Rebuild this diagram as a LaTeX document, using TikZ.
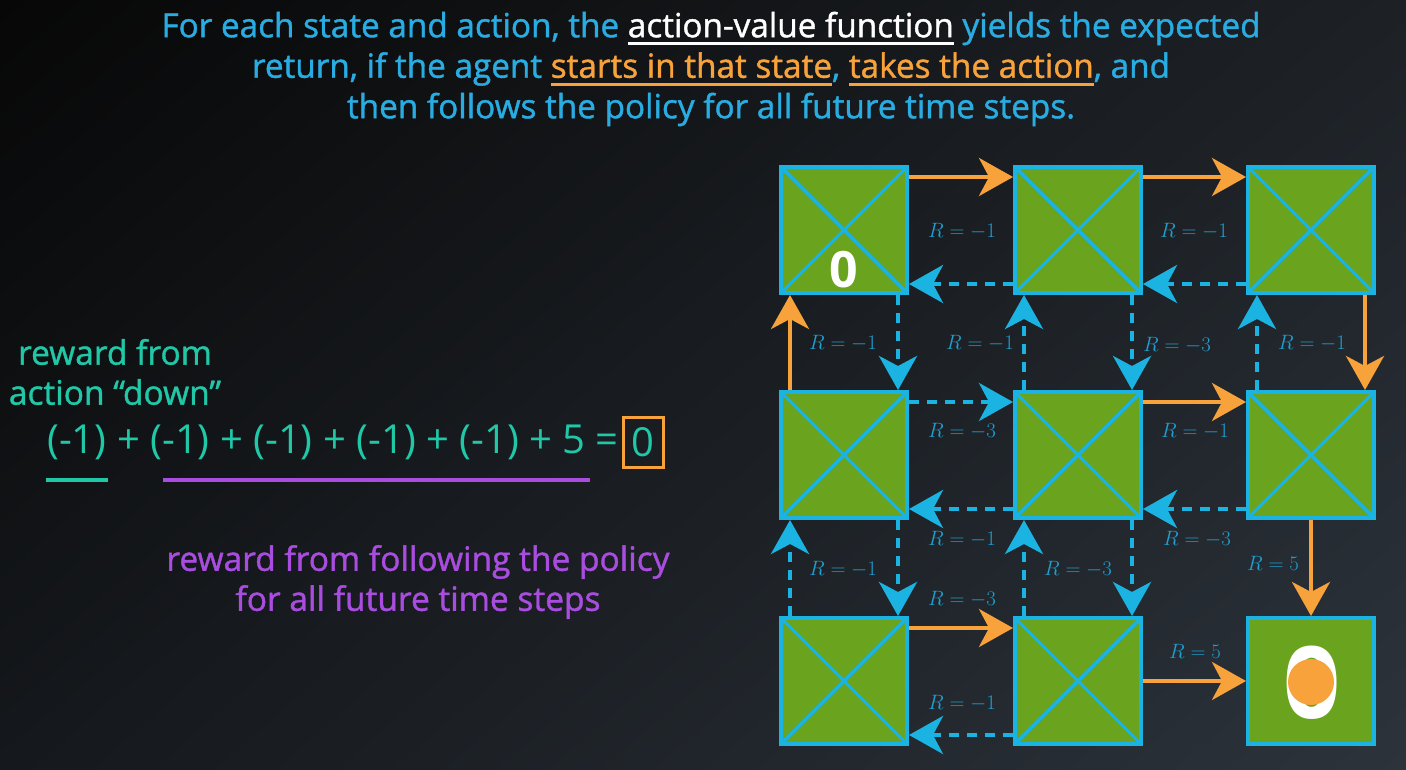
\documentclass[tikz,border=0pt]{standalone}
\usepackage{fontspec}
\usepackage{tikz}
\setmainfont{Open Sans}
\newfontfamily\semifont{Open Sans}[FakeBold = 1.2]
\newfontfamily\eqfont{Open Sans}
\usetikzlibrary{arrows.meta}
\usetikzlibrary{positioning}
\usetikzlibrary{shadings}
\definecolor{topblue}{HTML}{29ACE2}
\definecolor{tealtext}{HTML}{20C8A8}
\definecolor{purpletext}{HTML}{A84DDF}
\definecolor{orangeline}{HTML}{F7A23B}
\definecolor{grass}{HTML}{6AA31D}
\definecolor{cellline}{HTML}{1AB3E2}
\definecolor{labelblue}{HTML}{1E9FD0}
\definecolor{bgtl}{HTML}{070707}
\definecolor{bgtr}{HTML}{1D2126}
\definecolor{bgbl}{HTML}{15181C}
\definecolor{bgbr}{HTML}{2C333B}
\newlength{\marklen}
\newcommand{\markline}[2]{\settowidth{\marklen}{#2}\textcolor{#1}{\rlap{\rule[-8pt]{\marklen}{3pt}}#2}}
\tikzset{cell/.style = {draw = cellline, line width = 4pt, fill = grass,
                        minimum size = 126pt, inner sep = 0,
                        path picture = {\draw [line width = 3.5pt, cellline]
                          (path picture bounding box.north west) -- (path picture bounding box.south east)
                          (path picture bounding box.south west) -- (path picture bounding box.north east);}}}
\tikzset{goal/.style = {draw = cellline, line width = 4pt, fill = grass,
                        minimum size = 126pt, inner sep = 0}}
\tikzset{go/.style = {line width = 4pt, draw = orangeline,
                      -{Stealth[length = 34pt, width = 38pt, inset = 10pt]}}}
\tikzset{back/.style = {line width = 4.5pt, draw = cellline, dash pattern = on 10pt off 8pt,
                        -{Stealth[length = 34pt, width = 38pt, inset = 10pt]}}}
\tikzset{rlabel/.style = {text = labelblue, font = \fontsize{20}{24}\selectfont, inner sep = 0}}
\tikzset{headline/.style = {text = topblue, align = center, font = \semifont\fontsize{33.3}{40.5}\selectfont}}
\tikzset{sidetext/.style = {align = center, font = \semifont\fontsize{33.5}{40}\selectfont}}
\begin{document}
\begin{tikzpicture}[x = 1pt, y = -1pt]
    \useasboundingbox (0, 0) rectangle (1406, 770);
    \shade [upper left = bgtl, upper right = bgtr, lower left = bgbl, lower right = bgbr]
      (0, 0) rectangle (1406, 770);
    % heading
    \node [headline] (head) at (711, 69) {For each state and action, the \markline{white}{action-value function} yields the expected\\
      return, if the agent \markline{orangeline}{starts in that state}, \markline{orangeline}{takes the action}, and\\
      then follows the policy for all future time steps.};
    % left side
    \node [sidetext, text = tealtext] (action) at (115, 372) {reward from\\ action “down”};
    \node [text = tealtext, font = \eqfont\fontsize{40}{44}\selectfont, inner sep = 0, anchor = west] (sum) at (47, 442) {(-1) + (-1) + (-1) + (-1) + (-1) + 5 =};
    \node [text = tealtext, draw = orangeline, line width = 3pt, font = \eqfont\fontsize{40}{44}\selectfont,
           inner sep = 0, minimum width = 40pt, minimum height = 50pt, right = 3pt of sum] (zero) {0};
    \draw [line width = 4pt, tealtext] (46, 480) -- (108, 480);
    \draw [line width = 4pt, purpletext] (163, 480) -- (590, 480);
    \node [sidetext, text = purpletext] (policy) at (418, 582) {reward from following the policy\\ for all future time steps};
    % grid
    \node [cell] (s11) at (844, 230) {};
    \node [cell] (s12) at (1078, 230) {};
    \node [cell] (s13) at (1311, 230) {};
    \node [cell] (s21) at (844, 455) {};
    \node [cell] (s22) at (1078, 455) {};
    \node [cell] (s23) at (1311, 455) {};
    \node [cell] (s31) at (844, 681) {};
    \node [cell] (s32) at (1078, 681) {};
    \node [goal] (s33) at (1311, 681) {};
    \node [text = white, font = \bfseries\fontsize{50}{50}\selectfont, inner sep = 0] (start) at (844, 270) {0};
    \node [text = white, font = \bfseries\fontsize{100}{100}\selectfont, inner sep = 0] (finish) at (1312, 683) {0};
    \node [circle, fill = orangeline, minimum size = 46pt, inner sep = 0] (agent) at (1311, 682) {};
    % horizontal moves
    \draw [go] ([yshift = -12pt]s11.north east) -- ([yshift = -12pt]s12.north west);
    \draw [back] ([yshift = 11pt]s12.south west) -- ([yshift = 11pt]s11.south east);
    \draw [go] ([yshift = -12pt]s12.north east) -- ([yshift = -12pt]s13.north west);
    \draw [back] ([yshift = 11pt]s13.south west) -- ([yshift = 11pt]s12.south east);
    \draw [back] ([yshift = -12pt]s21.north east) -- ([yshift = -12pt]s22.north west);
    \draw [back] ([yshift = 11pt]s22.south west) -- ([yshift = 11pt]s21.south east);
    \draw [go] ([yshift = -12pt]s22.north east) -- ([yshift = -12pt]s23.north west);
    \draw [back] ([yshift = 11pt]s23.south west) -- ([yshift = 11pt]s22.south east);
    \draw [go] ([yshift = -12pt]s31.north east) -- ([yshift = -12pt]s32.north west);
    \draw [back] ([yshift = 11pt]s32.south west) -- ([yshift = 11pt]s31.south east);
    \draw [go] (s32.east) -- (s33.west);
    % vertical moves
    \draw [go] ([xshift = 11pt]s21.north west) -- ([xshift = 11pt]s11.south west);
    \draw [back] ([xshift = -11pt]s11.south east) -- ([xshift = -11pt]s21.north east);
    \draw [back] ([xshift = 11pt]s22.north west) -- ([xshift = 11pt]s12.south west);
    \draw [back] ([xshift = -11pt]s12.south east) -- ([xshift = -11pt]s22.north east);
    \draw [back] ([xshift = 11pt]s23.north west) -- ([xshift = 11pt]s13.south west);
    \draw [go] ([xshift = -11pt]s13.south east) -- ([xshift = -11pt]s23.north east);
    \draw [back] ([xshift = 11pt]s31.north west) -- ([xshift = 11pt]s21.south west);
    \draw [back] ([xshift = -11pt]s21.south east) -- ([xshift = -11pt]s31.north east);
    \draw [back] ([xshift = 11pt]s32.north west) -- ([xshift = 11pt]s22.south west);
    \draw [back] ([xshift = -11pt]s22.south east) -- ([xshift = -11pt]s32.north east);
    \draw [go] (s23.south) -- (s33.north);
    % rewards
    \node [rlabel] (ra) at (962, 231) {$R = -1$};
    \node [rlabel] (rb) at (1194, 231) {$R = -1$};
    \node [rlabel] (rc) at (843, 343) {$R = -1$};
    \node [rlabel] (rd) at (980, 343) {$R = -1$};
    \node [rlabel] (re) at (1177, 345) {$R = -3$};
    \node [rlabel] (rf) at (1312, 343) {$R = -1$};
    \node [rlabel] (rg) at (962, 431) {$R = -3$};
    \node [rlabel] (rh) at (962, 539) {$R = -1$};
    \node [rlabel] (ri) at (1195, 431) {$R = -1$};
    \node [rlabel] (rj) at (1197, 539) {$R = -3$};
    \node [rlabel] (rk) at (843, 569) {$R = -1$};
    \node [rlabel] (rl) at (1078, 569) {$R = -3$};
    \node [rlabel] (rm) at (1273, 563) {$R = 5$};
    \node [rlabel] (rn) at (962, 599) {$R = -3$};
    \node [rlabel] (ro) at (962, 703) {$R = -1$};
    \node [rlabel] (rp) at (1195, 651) {$R = 5$};
  \end{tikzpicture}
\end{document}
